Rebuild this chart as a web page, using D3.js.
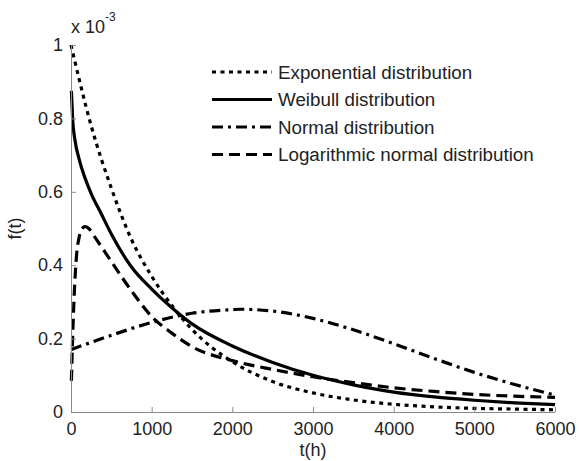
<!DOCTYPE html>
<html lang="en">
<style>
body { margin: 0; background: #fff; }
.curve { fill: none; stroke: #000; stroke-width: 3.2px; }
text { font-family: "Liberation Sans", Arial, sans-serif; fill: #222; }
</style>
<head>
    <title>f(t)</title>
    <script src="https://d3js.org/d3.v7.min.js"></script>
</head>
<body>
<div id="main"></div>
<script type="text/javascript">
    // values, f(t) in units of 1e-3
    const tExp = [0, 250, 500, 750, 1000, 1250, 1500, 1750, 2000, 2500, 3000, 3500, 4000, 4500, 5000, 5500, 6000];
    const fExp = [1.0, 0.78, 0.61, 0.47, 0.37, 0.29, 0.225, 0.175, 0.137, 0.083, 0.052, 0.033, 0.021, 0.014, 0.01, 0.008, 0.006];

    const tWei = [5, 20, 50, 100, 170, 250, 375, 500, 750, 1000, 1250, 1500, 2000, 2500, 3000, 3500, 4000, 4500, 5000, 5500, 6000];
    const fWei = [0.875, 0.8, 0.74, 0.69, 0.64, 0.595, 0.54, 0.485, 0.395, 0.335, 0.284, 0.24, 0.18, 0.135, 0.1, 0.074, 0.054, 0.041, 0.032, 0.025, 0.02];

    const tNor = [0, 500, 1000, 1500, 2000, 2100, 2500, 3000, 3500, 4000, 4500, 5000, 5500, 6000];
    const fNor = [0.17, 0.209, 0.244, 0.269, 0.279, 0.28, 0.275, 0.255, 0.224, 0.186, 0.146, 0.108, 0.075, 0.046];

    const tLog = [5, 20, 40, 70, 100, 140, 175, 220, 300, 500, 750, 1000, 1250, 1500, 2000, 2500, 3000, 3500, 4000, 4500, 5000, 5500, 6000];
    const fLog = [0.085, 0.2, 0.32, 0.43, 0.475, 0.5, 0.505, 0.5, 0.475, 0.41, 0.33, 0.26, 0.215, 0.178, 0.14, 0.116, 0.096, 0.08, 0.066, 0.056, 0.048, 0.043, 0.04];

    const seriesNames = ['Exponential distribution', 'Weibull distribution', 'Normal distribution', 'Logarithmic normal distribution'];
    const dashes = ['4,4.5', null, '11,5,3,5', '11,6'];

    const xTicks = [0, 1000, 2000, 3000, 4000, 5000, 6000];
    const yTicks = [0, 0.2, 0.4, 0.6, 0.8, 1];

    const width = 579;
    const height = 461;
    const plotLeft = 71, plotRight = 555, plotTop = 45, plotBottom = 412;

    const svg = d3.select('#main')
        .append('svg')
        .attr('width', width)
        .attr('height', height);

    const xScale = d3.scaleLinear().domain([0, 6000]).range([plotLeft, plotRight]);
    const yScale = d3.scaleLinear().domain([0, 1]).range([plotBottom, plotTop]);

    const series = [[tExp, fExp], [tWei, fWei], [tNor, fNor], [tLog, fLog]];

    const line = d3.line()
        .x(d => xScale(d[0]))
        .y(d => yScale(d[1]))
        .curve(d3.curveMonotoneX);

    series.forEach(([ts, fs], i) => {
        svg.append('path')
            .datum(ts.map((t, j) => [t, fs[j]]))
            .attr('class', 'curve')
            .attr('d', line)
            .attr('stroke-dasharray', dashes[i]);
    });

    // axes: left and bottom only, ticks pointing in
    const xAxis = d3.axisBottom(xScale).tickValues(xTicks).tickSize(-5).tickPadding(10).tickFormat(d3.format('d'));
    const gx = svg.append('g')
        .attr('transform', `translate(0, ${plotBottom})`)
        .call(xAxis);

    const yAxis = d3.axisLeft(yScale).tickValues(yTicks).tickSize(-5).tickPadding(8).tickFormat(d => d);
    const gy = svg.append('g')
        .attr('transform', `translate(${plotLeft}, 0)`)
        .call(yAxis);

    [gx, gy].forEach(g => {
        g.select('.domain').attr('stroke', '#8a8a8a');
        g.selectAll('.tick line').attr('stroke', '#8a8a8a');
        g.selectAll('.tick text').attr('font-size', 18).attr('fill', '#222')
            .attr('font-family', '"Liberation Sans", Arial, sans-serif');
    });
    gx.select('.domain').attr('d', `M${plotLeft},0.5H${plotRight}`);
    gy.select('.domain').attr('d', `M0.5,${plotBottom}V${plotTop}`);

    // exponent label
    const expo = svg.append('text')
        .attr('x', 71)
        .attr('y', 33)
        .attr('font-size', 18);
    expo.append('tspan').text('x 10');
    expo.append('tspan').text('-3').attr('font-size', 12).attr('dy', -12);

    svg.append('text')
        .text('t(h)')
        .attr('x', (plotLeft + plotRight) / 2)
        .attr('y', 456)
        .attr('text-anchor', 'middle')
        .attr('font-size', 18);

    svg.append('text')
        .text('f(t)')
        .attr('transform', `translate(21, ${(plotTop + plotBottom) / 2}) rotate(-90)`)
        .attr('text-anchor', 'middle')
        .attr('font-size', 18);

    // legend
    seriesNames.forEach((name, i) => {
        const yRow = 72 + i * 27.5;
        svg.append('line')
            .attr('x1', 212).attr('x2', 272)
            .attr('y1', yRow).attr('y2', yRow)
            .attr('class', 'curve')
            .attr('stroke-dasharray', dashes[i]);
        svg.append('text')
            .text(name)
            .attr('x', 278)
            .attr('y', yRow + 6.5)
            .attr('font-size', 18.8);
    });
</script>
</body>
</html>
